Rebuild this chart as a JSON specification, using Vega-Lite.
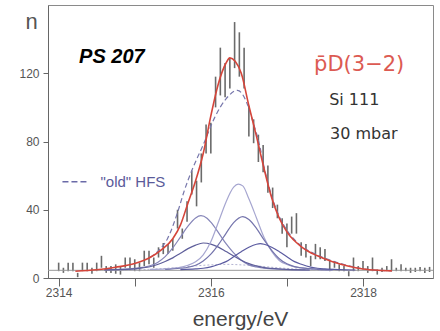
{
  "$schema": "https://vega.github.io/schema/vega-lite/v6.json",
  "width": 385,
  "height": 273,
  "autosize": {"type": "none"},
  "padding": {"left": 48, "top": 5, "right": 7, "bottom": 53},
  "background": "white",
  "config": {"view": {"stroke": "#8a8a8a", "strokeWidth": 1}, "font": "Liberation Sans"},
  "datasets": {
    "one": [{}],
    "bars": [
      {"e": 2314.0, "lo": 4, "hi": 9}, {"e": 2314.0625, "lo": 3, "hi": 6}, {"e": 2314.125, "lo": 4, "hi": 9}, {"e": 2314.1875, "lo": 4, "hi": 9},
      {"e": 2314.25, "lo": 0.5, "hi": 3}, {"e": 2314.3125, "lo": 4, "hi": 9}, {"e": 2314.375, "lo": 4, "hi": 9}, {"e": 2314.4375, "lo": 2.5, "hi": 6},
      {"e": 2314.5, "lo": 4, "hi": 9}, {"e": 2314.5625, "lo": 6, "hi": 13}, {"e": 2314.625, "lo": 3, "hi": 7}, {"e": 2314.6875, "lo": 3, "hi": 7},
      {"e": 2314.75, "lo": 2.5, "hi": 8}, {"e": 2314.8125, "lo": 2, "hi": 7}, {"e": 2314.875, "lo": 6, "hi": 12}, {"e": 2314.9375, "lo": 5, "hi": 12},
      {"e": 2315.0, "lo": 4, "hi": 11}, {"e": 2315.0625, "lo": 4, "hi": 9}, {"e": 2315.125, "lo": 7, "hi": 16}, {"e": 2315.1875, "lo": 8, "hi": 16},
      {"e": 2315.25, "lo": 6, "hi": 12}, {"e": 2315.3125, "lo": 12, "hi": 18}, {"e": 2315.375, "lo": 14, "hi": 20.5}, {"e": 2315.4375, "lo": 14, "hi": 20},
      {"e": 2315.5, "lo": 16, "hi": 23}, {"e": 2315.5625, "lo": 29, "hi": 40}, {"e": 2315.625, "lo": 23, "hi": 29}, {"e": 2315.6875, "lo": 33, "hi": 45},
      {"e": 2315.75, "lo": 49, "hi": 63}, {"e": 2315.8125, "lo": 42, "hi": 57}, {"e": 2315.875, "lo": 56, "hi": 73}, {"e": 2315.9375, "lo": 73, "hi": 90},
      {"e": 2316.0, "lo": 73, "hi": 91}, {"e": 2316.0625, "lo": 100, "hi": 118}, {"e": 2316.125, "lo": 107, "hi": 135}, {"e": 2316.1875, "lo": 106, "hi": 126},
      {"e": 2316.25, "lo": 111, "hi": 129}, {"e": 2316.3125, "lo": 123, "hi": 150}, {"e": 2316.375, "lo": 118, "hi": 144}, {"e": 2316.4375, "lo": 111, "hi": 135},
      {"e": 2316.5, "lo": 83, "hi": 101}, {"e": 2316.5625, "lo": 79, "hi": 93}, {"e": 2316.625, "lo": 68, "hi": 84}, {"e": 2316.6875, "lo": 62, "hi": 78},
      {"e": 2316.75, "lo": 50, "hi": 66}, {"e": 2316.8125, "lo": 41, "hi": 53}, {"e": 2316.875, "lo": 35, "hi": 43}, {"e": 2316.9375, "lo": 26, "hi": 35},
      {"e": 2317.0, "lo": 18, "hi": 32}, {"e": 2317.0625, "lo": 26, "hi": 36}, {"e": 2317.125, "lo": 26, "hi": 38}, {"e": 2317.1875, "lo": 13, "hi": 21},
      {"e": 2317.25, "lo": 12, "hi": 20}, {"e": 2317.3125, "lo": 7, "hi": 13}, {"e": 2317.375, "lo": 11, "hi": 20}, {"e": 2317.4375, "lo": 11, "hi": 18},
      {"e": 2317.5, "lo": 10, "hi": 17}, {"e": 2317.5625, "lo": 4, "hi": 10}, {"e": 2317.625, "lo": 6, "hi": 10}, {"e": 2317.6875, "lo": 4, "hi": 8},
      {"e": 2317.75, "lo": 4, "hi": 7}, {"e": 2317.8125, "lo": 1, "hi": 4}, {"e": 2317.875, "lo": 4, "hi": 12}, {"e": 2317.9375, "lo": 4, "hi": 7},
      {"e": 2318.0, "lo": 5, "hi": 10}, {"e": 2318.0625, "lo": 3, "hi": 7}, {"e": 2318.125, "lo": 4, "hi": 12}, {"e": 2318.1875, "lo": 2, "hi": 5},
      {"e": 2318.25, "lo": 3.5, "hi": 6}, {"e": 2318.3125, "lo": 4, "hi": 7}, {"e": 2318.375, "lo": 4, "hi": 11}, {"e": 2318.4375, "lo": 4, "hi": 6},
      {"e": 2318.5, "lo": 4, "hi": 8}, {"e": 2318.5625, "lo": 4, "hi": 6}, {"e": 2318.625, "lo": 3, "hi": 6}, {"e": 2318.6875, "lo": 3.5, "hi": 6},
      {"e": 2318.75, "lo": 4, "hi": 6.5}, {"e": 2318.8125, "lo": 3, "hi": 6}, {"e": 2318.875, "lo": 3.5, "hi": 6.5}
    ],
    "fit": [
      {"e": 2314.22, "n": 4.0}, {"e": 2314.5, "n": 4.8}, {"e": 2314.75, "n": 6.3}, {"e": 2315.0, "n": 8.5}, {"e": 2315.2, "n": 12},
      {"e": 2315.35, "n": 16.5}, {"e": 2315.5, "n": 23}, {"e": 2315.6, "n": 31}, {"e": 2315.7, "n": 44}, {"e": 2315.8, "n": 57},
      {"e": 2315.9, "n": 73}, {"e": 2316.0, "n": 95}, {"e": 2316.1, "n": 114}, {"e": 2316.2, "n": 126}, {"e": 2316.25, "n": 129},
      {"e": 2316.32, "n": 127}, {"e": 2316.4, "n": 120}, {"e": 2316.5, "n": 101}, {"e": 2316.6, "n": 83}, {"e": 2316.7, "n": 64},
      {"e": 2316.8, "n": 47}, {"e": 2316.9, "n": 35}, {"e": 2317.0, "n": 27}, {"e": 2317.2, "n": 18}, {"e": 2317.4, "n": 13},
      {"e": 2317.6, "n": 9.5}, {"e": 2317.8, "n": 7}, {"e": 2318.0, "n": 5.3}, {"e": 2318.2, "n": 4.5}, {"e": 2318.38, "n": 4.2}
    ],
    "oldhfs": [
      {"e": 2315.2, "n": 12}, {"e": 2315.3, "n": 15.5}, {"e": 2315.43, "n": 23}, {"e": 2315.56, "n": 38}, {"e": 2315.65, "n": 51},
      {"e": 2315.75, "n": 63}, {"e": 2315.9, "n": 78}, {"e": 2316.05, "n": 94}, {"e": 2316.2, "n": 105}, {"e": 2316.35, "n": 110},
      {"e": 2316.47, "n": 103}, {"e": 2316.55, "n": 92}, {"e": 2316.64, "n": 78}, {"e": 2316.7, "n": 65}, {"e": 2316.8, "n": 48},
      {"e": 2316.9, "n": 36}, {"e": 2317.0, "n": 28}, {"e": 2317.2, "n": 18.5}, {"e": 2317.4, "n": 13.5}, {"e": 2317.6, "n": 10},
      {"e": 2317.8, "n": 7.3}, {"e": 2318.0, "n": 5.4}, {"e": 2318.2, "n": 4.5}, {"e": 2318.38, "n": 4.2}
    ],
    "comps": [
      {"comp": "a", "e": 2314.6, "n": 4.8}, {"comp": "a", "e": 2314.8, "n": 5.0}, {"comp": "a", "e": 2315.0, "n": 5.6}, {"comp": "a", "e": 2315.1, "n": 6.2},
      {"comp": "a", "e": 2315.2, "n": 7.2}, {"comp": "a", "e": 2315.3, "n": 9.1}, {"comp": "a", "e": 2315.4, "n": 12.5}, {"comp": "a", "e": 2315.5, "n": 17.6},
      {"comp": "a", "e": 2315.6, "n": 24.0}, {"comp": "a", "e": 2315.7, "n": 30.4}, {"comp": "a", "e": 2315.8, "n": 35.2}, {"comp": "a", "e": 2315.87, "n": 36.5},
      {"comp": "a", "e": 2315.95, "n": 35.0}, {"comp": "a", "e": 2316.0, "n": 32.7}, {"comp": "a", "e": 2316.1, "n": 26.6}, {"comp": "a", "e": 2316.2, "n": 20.1},
      {"comp": "a", "e": 2316.3, "n": 14.7}, {"comp": "a", "e": 2316.4, "n": 10.4}, {"comp": "a", "e": 2316.5, "n": 7.7}, {"comp": "a", "e": 2316.6, "n": 6.5},
      {"comp": "a", "e": 2316.7, "n": 5.7}, {"comp": "a", "e": 2316.8, "n": 5.4}, {"comp": "a", "e": 2317.0, "n": 4.9}, {"comp": "a", "e": 2317.3, "n": 4.7},
      {"comp": "b", "e": 2314.6, "n": 4.8}, {"comp": "b", "e": 2314.8, "n": 4.9}, {"comp": "b", "e": 2315.0, "n": 5.4}, {"comp": "b", "e": 2315.1, "n": 5.9},
      {"comp": "b", "e": 2315.2, "n": 6.6}, {"comp": "b", "e": 2315.3, "n": 7.9}, {"comp": "b", "e": 2315.4, "n": 9.7}, {"comp": "b", "e": 2315.5, "n": 11.8},
      {"comp": "b", "e": 2315.6, "n": 14.5}, {"comp": "b", "e": 2315.7, "n": 17.2}, {"comp": "b", "e": 2315.8, "n": 19.3}, {"comp": "b", "e": 2315.9, "n": 20.5},
      {"comp": "b", "e": 2316.0, "n": 19.9}, {"comp": "b", "e": 2316.1, "n": 18.1}, {"comp": "b", "e": 2316.2, "n": 15.5}, {"comp": "b", "e": 2316.3, "n": 12.9},
      {"comp": "b", "e": 2316.4, "n": 10.4}, {"comp": "b", "e": 2316.5, "n": 8.4}, {"comp": "b", "e": 2316.6, "n": 7.1}, {"comp": "b", "e": 2316.7, "n": 6.1},
      {"comp": "b", "e": 2316.8, "n": 5.6}, {"comp": "b", "e": 2317.0, "n": 5.0}, {"comp": "b", "e": 2317.3, "n": 4.7},
      {"comp": "c", "e": 2315.2, "n": 5.0}, {"comp": "c", "e": 2315.4, "n": 5.3}, {"comp": "c", "e": 2315.5, "n": 5.7}, {"comp": "c", "e": 2315.6, "n": 6.3},
      {"comp": "c", "e": 2315.7, "n": 7.5}, {"comp": "c", "e": 2315.8, "n": 9.5}, {"comp": "c", "e": 2315.9, "n": 13.6}, {"comp": "c", "e": 2316.0, "n": 21.2},
      {"comp": "c", "e": 2316.1, "n": 32.8}, {"comp": "c", "e": 2316.2, "n": 44.6}, {"comp": "c", "e": 2316.3, "n": 53.2}, {"comp": "c", "e": 2316.36, "n": 55.0},
      {"comp": "c", "e": 2316.42, "n": 54.0}, {"comp": "c", "e": 2316.5, "n": 46.4}, {"comp": "c", "e": 2316.6, "n": 35.2}, {"comp": "c", "e": 2316.7, "n": 23.7},
      {"comp": "c", "e": 2316.8, "n": 15.6}, {"comp": "c", "e": 2316.9, "n": 10.3}, {"comp": "c", "e": 2317.0, "n": 7.9}, {"comp": "c", "e": 2317.1, "n": 6.5},
      {"comp": "c", "e": 2317.2, "n": 5.8}, {"comp": "c", "e": 2317.4, "n": 5.1}, {"comp": "c", "e": 2317.6, "n": 4.8},
      {"comp": "d", "e": 2315.4, "n": 5.0}, {"comp": "d", "e": 2315.6, "n": 5.7}, {"comp": "d", "e": 2315.7, "n": 6.3}, {"comp": "d", "e": 2315.8, "n": 7.5},
      {"comp": "d", "e": 2315.9, "n": 10.0}, {"comp": "d", "e": 2316.0, "n": 14.0}, {"comp": "d", "e": 2316.1, "n": 19.6}, {"comp": "d", "e": 2316.2, "n": 26.2},
      {"comp": "d", "e": 2316.3, "n": 32.5}, {"comp": "d", "e": 2316.42, "n": 36.0}, {"comp": "d", "e": 2316.5, "n": 34.3}, {"comp": "d", "e": 2316.6, "n": 29.1},
      {"comp": "d", "e": 2316.7, "n": 22.3}, {"comp": "d", "e": 2316.8, "n": 16.2}, {"comp": "d", "e": 2316.9, "n": 11.3}, {"comp": "d", "e": 2317.0, "n": 8.3},
      {"comp": "d", "e": 2317.1, "n": 6.7}, {"comp": "d", "e": 2317.2, "n": 5.9}, {"comp": "d", "e": 2317.4, "n": 5.1}, {"comp": "d", "e": 2317.6, "n": 4.8},
      {"comp": "e", "e": 2315.6, "n": 4.9}, {"comp": "e", "e": 2315.8, "n": 5.3}, {"comp": "e", "e": 2315.9, "n": 5.7}, {"comp": "e", "e": 2316.0, "n": 6.5},
      {"comp": "e", "e": 2316.1, "n": 7.9}, {"comp": "e", "e": 2316.2, "n": 9.6}, {"comp": "e", "e": 2316.3, "n": 12.5}, {"comp": "e", "e": 2316.4, "n": 15.4},
      {"comp": "e", "e": 2316.5, "n": 18.0}, {"comp": "e", "e": 2316.6, "n": 19.8}, {"comp": "e", "e": 2316.65, "n": 20.1}, {"comp": "e", "e": 2316.7, "n": 19.8},
      {"comp": "e", "e": 2316.8, "n": 18.0}, {"comp": "e", "e": 2316.9, "n": 15.4}, {"comp": "e", "e": 2317.0, "n": 12.5}, {"comp": "e", "e": 2317.1, "n": 9.6},
      {"comp": "e", "e": 2317.2, "n": 7.9}, {"comp": "e", "e": 2317.3, "n": 6.5}, {"comp": "e", "e": 2317.4, "n": 5.7}, {"comp": "e", "e": 2317.5, "n": 5.3},
      {"comp": "e", "e": 2317.7, "n": 4.9}, {"comp": "e", "e": 2317.9, "n": 4.7}
    ],
    "faint": [
      {"e": 2314.8, "n": 4.7}, {"e": 2315.0, "n": 4.8}, {"e": 2315.2, "n": 5.1}, {"e": 2315.4, "n": 5.6}, {"e": 2315.6, "n": 6.3},
      {"e": 2315.8, "n": 7.1}, {"e": 2316.0, "n": 7.7}, {"e": 2316.2, "n": 8.0}, {"e": 2316.4, "n": 7.7}, {"e": 2316.6, "n": 7.1},
      {"e": 2316.8, "n": 6.3}, {"e": 2317.0, "n": 5.6}, {"e": 2317.2, "n": 5.1}, {"e": 2317.4, "n": 4.8}, {"e": 2317.6, "n": 4.7}
    ]
  },
  "layer": [
    {
      "data": {"name": "bars"},
      "mark": {"type": "rule", "color": "#6b6b6b", "strokeWidth": 1.6},
      "encoding": {
        "x": {
          "field": "e", "type": "quantitative",
          "scale": {"domain": [2313.86, 2318.92], "nice": false, "zero": false},
          "axis": {
            "title": "energy/eV", "values": [2314, 2315, 2316, 2317, 2318], "format": "d",
            "labelExpr": "datum.value % 2 == 0 ? datum.label : ''",
            "grid": false, "tickSize": 8, "tickColor": "#666", "domainColor": "#666",
            "labelColor": "#555", "labelFontSize": 12, "labelPadding": 1, "labelFont": "Liberation Sans",
            "titleFont": "Liberation Sans", "titleFontSize": 21, "titleFontWeight": "normal", "titleColor": "#444",
            "titleX": 192, "titleY": 47, "titleBaseline": "alphabetic", "titleAlign": "center"
          }
        },
        "y": {
          "field": "lo", "type": "quantitative",
          "scale": {"domain": [0, 160], "nice": false},
          "axis": {
            "title": "n", "values": [0, 20, 40, 60, 80, 100, 120, 140],
            "labelExpr": "datum.value % 40 == 0 ? datum.label : ''",
            "grid": false, "tickSize": 5, "tickColor": "#666", "domainColor": "#666",
            "labelColor": "#555", "labelFontSize": 12, "labelPadding": 4, "labelFont": "Liberation Sans",
            "titleFont": "Liberation Sans", "titleFontSize": 22, "titleFontWeight": "normal", "titleColor": "#555",
            "titleAngle": 0, "titleX": -17, "titleY": 23, "titleBaseline": "alphabetic", "titleAlign": "center"
          }
        },
        "y2": {"field": "hi"}
      }
    },
    {
      "data": {"name": "one"},
      "mark": {"type": "rule", "color": "#9a9a9a", "strokeWidth": 1},
      "encoding": {"y": {"datum": 4.5, "type": "quantitative"}}
    },
    {
      "data": {"name": "faint"},
      "mark": {"type": "line", "color": "#b4b4d2", "strokeWidth": 1, "strokeDash": [2, 2], "interpolate": "monotone"},
      "encoding": {"x": {"field": "e", "type": "quantitative"}, "y": {"field": "n", "type": "quantitative"}}
    },
    {
      "data": {"name": "comps"},
      "mark": {"type": "line", "strokeWidth": 1.2, "interpolate": "monotone"},
      "encoding": {
        "x": {"field": "e", "type": "quantitative"},
        "y": {"field": "n", "type": "quantitative"},
        "color": {"field": "comp", "type": "nominal", "legend": null,
          "scale": {"domain": ["a", "b", "c", "d", "e"], "range": ["#8585b8", "#5e5e9a", "#a6a6d0", "#7474ac", "#5a5aa0"]}}
      }
    },
    {
      "data": {"name": "oldhfs"},
      "mark": {"type": "line", "color": "#7878ac", "strokeWidth": 1.2, "strokeDash": [5, 3], "interpolate": "monotone"},
      "encoding": {"x": {"field": "e", "type": "quantitative"}, "y": {"field": "n", "type": "quantitative"}}
    },
    {
      "data": {"name": "fit"},
      "mark": {"type": "line", "color": "#d5453a", "strokeWidth": 1.6, "interpolate": "monotone"},
      "encoding": {"x": {"field": "e", "type": "quantitative"}, "y": {"field": "n", "type": "quantitative"}}
    },
    {
      "data": {"name": "one"},
      "mark": {"type": "rule", "color": "#6a6aa8", "strokeWidth": 1.5, "strokeDash": [6, 3]},
      "encoding": {"x": {"datum": 2314.05, "type": "quantitative"}, "x2": {"datum": 2314.38}, "y": {"datum": 56.4, "type": "quantitative"}}
    },
    {
      "data": {"name": "one"},
      "mark": {"type": "text", "text": "\"old\" HFS", "align": "left", "baseline": "middle", "font": "Liberation Sans", "fontSize": 15, "color": "#5a5a9a"},
      "encoding": {"x": {"datum": 2314.55, "type": "quantitative"}, "y": {"datum": 56.4, "type": "quantitative"}}
    },
    {
      "data": {"name": "one"},
      "mark": {"type": "text", "text": "PS 207", "align": "center", "baseline": "middle", "font": "Liberation Sans", "fontSize": 20, "fontWeight": "bold", "fontStyle": "italic", "color": "#000"},
      "encoding": {"x": {"datum": 2314.70, "type": "quantitative"}, "y": {"datum": 129.7, "type": "quantitative"}}
    },
    {
      "data": {"name": "one"},
      "mark": {"type": "text", "text": "p̄D(3−2)", "align": "center", "baseline": "middle", "font": "DejaVu Sans", "fontSize": 21, "color": "#dc5a52"},
      "encoding": {"x": {"datum": 2317.95, "type": "quantitative"}, "y": {"datum": 125, "type": "quantitative"}}
    },
    {
      "data": {"name": "one"},
      "mark": {"type": "text", "text": "Si 111", "align": "center", "baseline": "middle", "font": "DejaVu Sans", "fontSize": 16, "color": "#333"},
      "encoding": {"x": {"datum": 2317.885, "type": "quantitative"}, "y": {"datum": 104.5, "type": "quantitative"}}
    },
    {
      "data": {"name": "one"},
      "mark": {"type": "text", "text": "30  mbar", "align": "center", "baseline": "middle", "font": "DejaVu Sans", "fontSize": 16, "color": "#333"},
      "encoding": {"x": {"datum": 2318.01, "type": "quantitative"}, "y": {"datum": 84.6, "type": "quantitative"}}
    }
  ]
}
